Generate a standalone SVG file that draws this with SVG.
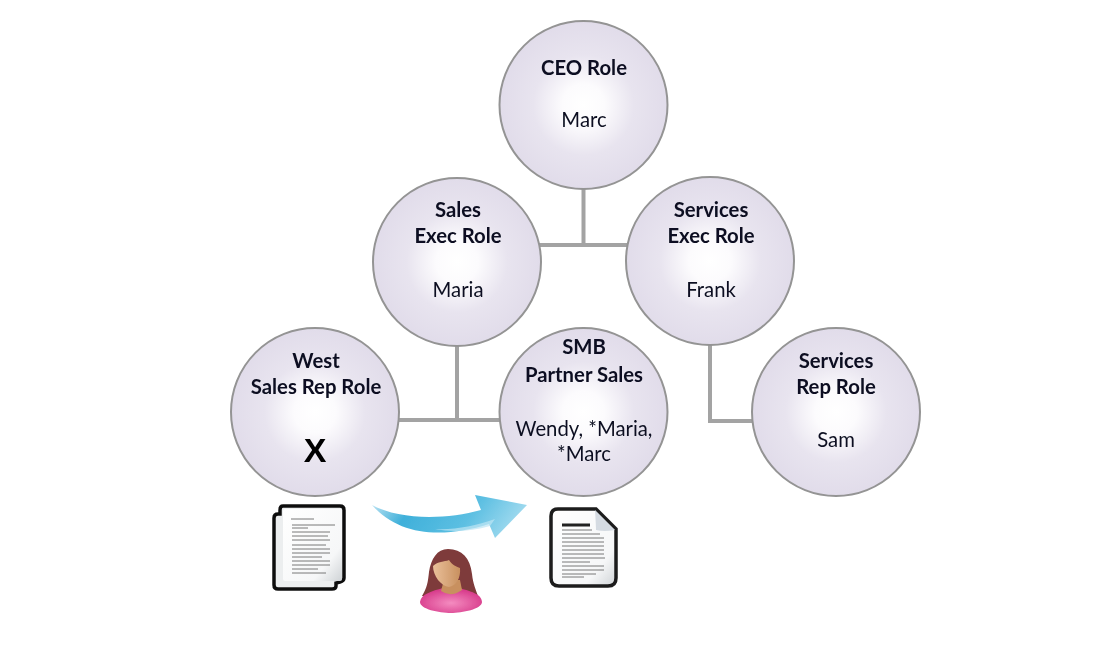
<svg xmlns="http://www.w3.org/2000/svg" width="1098" height="658" viewBox="0 0 1098 658">
<style>
.c{fill:url(#g);stroke:#949494;stroke-width:2}
.l{fill:none;stroke:#a3a3a3;stroke-width:4}
text{font-family:"Lato","Open Sans","Liberation Sans",sans-serif;font-size:20.3px;fill:#0c1020;text-anchor:middle}
.b{font-weight:700}
.x{font-family:"Liberation Sans",sans-serif;font-size:34px;fill:#000}
.ln{stroke:#6a6a6a;stroke-width:0.9;fill:none}
</style>
<defs>
<radialGradient id="g" cx="0.5" cy="0.5" r="0.5">
<stop offset="0" stop-color="#fff"/><stop offset="0.25" stop-color="#fcfbfd"/><stop offset="0.6" stop-color="#e8e4ef"/><stop offset="1" stop-color="#e1dcea"/>
</radialGradient>
<linearGradient id="ar" x1="0" y1="0" x2="1" y2="0.2">
<stop offset="0" stop-color="#cdeaf6"/><stop offset="0.3" stop-color="#3fb0da"/><stop offset="0.7" stop-color="#5cbfe2"/><stop offset="1" stop-color="#9bd8ee"/>
</linearGradient>
<linearGradient id="pg" x1="0" y1="0" x2="1" y2="1">
<stop offset="0" stop-color="#fff"/><stop offset="0.75" stop-color="#f6f7f8"/><stop offset="1" stop-color="#cfd3d6"/>
</linearGradient>
<radialGradient id="sh" cx="0.5" cy="0.6" r="0.55"><stop offset="0" stop-color="#f48cc0"/><stop offset="1" stop-color="#d83c8c"/></radialGradient>
<linearGradient id="sk" x1="0" y1="0" x2="1" y2="0"><stop offset="0" stop-color="#eac09a"/><stop offset="1" stop-color="#c8905f"/></linearGradient>
<filter id="bl" x="-10%" y="-10%" width="120%" height="120%"><feGaussianBlur stdDeviation="0.7"/></filter>
<filter id="tb" x="-5%" y="-5%" width="110%" height="110%"><feGaussianBlur stdDeviation="0.45"/></filter>
</defs>
<g id="connectors">
<path class="l" d="M583.500 189V245M457 245H710"/>
<path class="l" d="M457 346V420M315 420H584"/>
<path class="l" d="M710 345V421H836"/>
</g>
<g filter="url(#tb)">
<g id="ceo"><circle class="c" cx="583.500" cy="105" r="84"/><text class="b" x="584" y="74.500">CEO Role</text><text x="584" y="127">Marc</text></g>
<g id="sales-exec"><circle class="c" cx="457" cy="262" r="84"/><text class="b" x="458" y="217">Sales</text><text class="b" x="458" y="243">Exec Role</text><text x="458" y="297">Maria</text></g>
<g id="services-exec"><circle class="c" cx="710" cy="261" r="84"/><text class="b" x="711" y="217">Services</text><text class="b" x="711" y="243">Exec Role</text><text x="711" y="297">Frank</text></g>
<g id="west"><circle class="c" cx="315" cy="412" r="84"/><text class="b" x="316" y="367.500">West</text><text class="b" x="316" y="393.500">Sales Rep Role</text><text class="b x" x="315" y="462">X</text></g>
<g id="smb"><circle class="c" cx="583.500" cy="412" r="84"/><text class="b" x="584" y="354">SMB</text><text class="b" x="584" y="381.500">Partner Sales</text><text x="584" y="435.500">Wendy, *Maria,</text><text x="584" y="461">*Marc</text></g>
<g id="services-rep"><circle class="c" cx="836" cy="412" r="84"/><text class="b" x="836" y="367.500">Services</text><text class="b" x="836" y="393.500">Rep Role</text><text x="836" y="447">Sam</text></g>
</g>
<g id="doc-left" filter="url(#bl)">
<path d="M283 506H340Q344 506 344 510V578Q344 581 340 582L336 583V586Q336 589 332 589H278Q274 589 274 585V518Q274 514 278 514H280V510Q280 506 283 506Z" fill="#eceeef" stroke="#111" stroke-width="3.500"/>
<rect x="283" y="509" width="59" height="72" rx="2" fill="url(#pg)"/>
<path class="ln" d="M291 519H314M292 525H335M292 528H308M292 532H330M292 536H328M292 540H330M292 545H326M292 549H330M292 553H330M292 557H322M292 561H330M292 565H330M292 569H318M292 573H326"/>
</g>
<g id="doc-right" filter="url(#bl)">
<path d="M558 509H596L616 529V578Q616 586 608 586H559Q551 586 551 578V516Q551 509 558 509Z" fill="url(#pg)" stroke="#1c1c1c" stroke-width="3.500"/>
<path d="M595 510Q596 526 596 530Q604 532 615 530Z" fill="#d5dbe2"/>
<path d="M562 525H590" stroke="#222" stroke-width="3"/>
<path class="ln" d="M562 530H592M562 534H600M562 538H604M562 542H604M562 546H604M562 550H604M562 554H604M562 558H605M562 562H590M562 566H604M562 570H604M562 574H596M562 577H584"/>
</g>
<g id="arrow" filter="url(#bl)">
<path d="M372 505C400 520 445 520 481 510L475 495L527 505L495 538L489 524C445 538 400 537 372 505Z" fill="url(#ar)"/>
<path d="M435 529C455 530 475 526 495 519L490 526C470 532 450 532 435 529Z" fill="#bfe6f4" opacity="0.7"/>
</g>
<g id="person" filter="url(#bl)">
<path d="M448 549C462 549 470 558 472 574C473 584 476 590 478 596L422 596C427 588 428 582 429 572C431 559 437 549 448 549Z" fill="#7e3a3a"/>
<path d="M420 602C421 594 432 591 443 588L459 588C470 591 482 594 482 602C482 609 462 613 451 613C439 613 420 609 420 602Z" fill="url(#sh)"/>
<path d="M444 580H460L462 590Q451 598 441 591Z" fill="#c8905f"/>
<path d="M433 566C438 561 444 562 449 560C452 565 457 567 460 568C461 578 456 586 449 587C441 586 433 576 433 566Z" fill="url(#sk)"/>
</g>
</svg>
